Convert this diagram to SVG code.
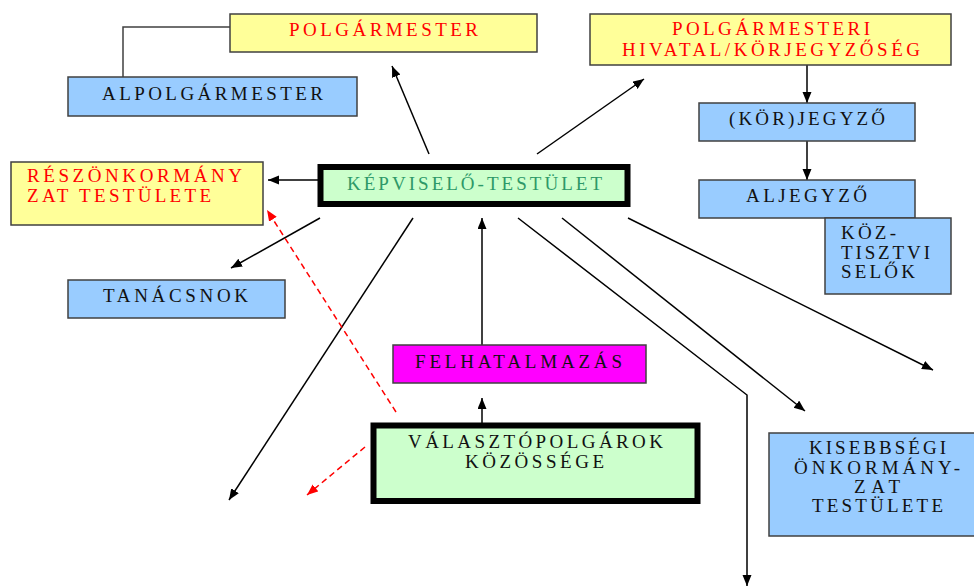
<svg xmlns="http://www.w3.org/2000/svg" width="974" height="587" viewBox="0 0 974 587">
<defs>
<marker id="ah" markerUnits="userSpaceOnUse" markerWidth="12" markerHeight="10" refX="11" refY="4.5" orient="auto"><path d="M0,0 L11,4.5 L0,9 z" fill="#000"/></marker>
<marker id="ahr" markerUnits="userSpaceOnUse" markerWidth="12" markerHeight="10" refX="11" refY="4.5" orient="auto"><path d="M0,0 L11,4.5 L0,9 z" fill="#f00"/></marker>
<style>
.box{stroke:#404040;stroke-width:1.5}
.thick{stroke:#000;stroke-width:6;fill:#ccffcc}
.yel{fill:#ffff99}
.blu{fill:#99ccff}
.mag{fill:#ff00ff}
text{font-family:"Liberation Serif","Times New Roman",serif;font-size:19px;fill:#111}
.red{fill:#ff0000}
.teal{fill:#2e9968}
.c{stroke:#000;stroke-width:1.5;fill:none}
.d{stroke:#ff0000;stroke-width:1.5;fill:none;stroke-dasharray:6,4}
</style>
</defs>
<rect width="974" height="587" fill="#fff"/>
<g id="connectors">
<polyline points="230,27 123,27 123,77" stroke="#404040" stroke-width="1.5" fill="none"/>
<line class="c" x1="429" y1="154" x2="392" y2="66" marker-end="url(#ah)"/>
<line class="c" x1="537" y1="154" x2="644" y2="79" marker-end="url(#ah)"/>
<line class="c" x1="318" y1="180" x2="268" y2="180" marker-end="url(#ah)"/>
<line class="c" x1="807" y1="65" x2="807" y2="103" marker-end="url(#ah)"/>
<line class="c" x1="807" y1="141" x2="807" y2="180" marker-end="url(#ah)"/>
<line class="c" x1="320" y1="218" x2="231" y2="268" marker-end="url(#ah)"/>
<line class="c" x1="413" y1="218" x2="229" y2="500" marker-end="url(#ah)"/>
<line class="c" x1="482" y1="345" x2="482" y2="218" marker-end="url(#ah)"/>
<line class="c" x1="482" y1="424" x2="482" y2="398" marker-end="url(#ah)"/>
<polyline class="c" points="518,218 747,395 747,586" stroke-width="1.3" marker-end="url(#ah)"/>
<line class="c" x1="562" y1="218" x2="805" y2="411" stroke-width="2" marker-end="url(#ah)"/>
<line class="c" x1="628" y1="218" x2="933" y2="370" marker-end="url(#ah)"/>
<line class="d" x1="396" y1="412" x2="267" y2="210" marker-end="url(#ahr)"/>
<line class="d" x1="365" y1="447" x2="307" y2="495" marker-end="url(#ahr)"/>
</g>
<g id="polgarmester">
<rect class="box yel" x="230" y="14" width="307" height="38"/>
<text class="red" x="289" y="36" textLength="189" lengthAdjust="spacing">POLGÁRMESTER</text>
</g>
<g id="alpolgarmester">
<rect class="box blu" x="68" y="77" width="289" height="39"/>
<text x="102" y="100" textLength="221" lengthAdjust="spacing">ALPOLGÁRMESTER</text>
</g>
<g id="hivatal">
<rect class="box yel" x="590" y="14" width="361" height="51"/>
<text class="red" x="672" y="35" textLength="198" lengthAdjust="spacing">POLGÁRMESTERI</text>
<text class="red" x="622" y="56" textLength="298" lengthAdjust="spacing">HIVATAL/KÖRJEGYZŐSÉG</text>
</g>
<g id="korjegyzo">
<rect class="box blu" x="699" y="103" width="216" height="38"/>
<text x="729" y="125" textLength="156" lengthAdjust="spacing">(KÖR)JEGYZŐ</text>
</g>
<g id="aljegyzo">
<rect class="box blu" x="699" y="180" width="216" height="38"/>
<text x="746" y="202" textLength="121" lengthAdjust="spacing">ALJEGYZŐ</text>
</g>
<g id="koztisztviselok">
<rect class="box blu" x="825" y="218" width="126" height="76"/>
<text x="841" y="239" textLength="55" lengthAdjust="spacing">KÖZ-</text>
<text x="841" y="259" textLength="89" lengthAdjust="spacing">TISZTVI</text>
<text x="841" y="278" textLength="74" lengthAdjust="spacing">SELŐK</text>
</g>
<g id="reszonkormanyzat">
<rect class="box yel" x="11" y="162" width="252" height="63"/>
<text class="red" x="27" y="182" textLength="215" lengthAdjust="spacing">RÉSZÖNKORMÁNY</text>
<text class="red" x="27" y="202" textLength="184" lengthAdjust="spacing">ZAT TESTÜLETE</text>
</g>
<g id="kepviselo-testulet">
<rect class="thick" x="320.5" y="167" width="307" height="37"/>
<text class="teal" x="347" y="190" textLength="255" lengthAdjust="spacing">KÉPVISELŐ-TESTÜLET</text>
</g>
<g id="tanacsnok">
<rect class="box blu" x="68" y="280" width="217" height="38"/>
<text x="103" y="302" textLength="145" lengthAdjust="spacing">TANÁCSNOK</text>
</g>
<g id="felhatalmazas">
<rect class="box mag" x="393" y="345" width="253" height="38"/>
<text x="415" y="368" textLength="207" lengthAdjust="spacing">FELHATALMAZÁS</text>
</g>
<g id="valasztopolgarok">
<rect class="thick" x="373.5" y="425.5" width="324" height="75.5"/>
<text x="408" y="448" textLength="255" lengthAdjust="spacing">VÁLASZTÓPOLGÁROK</text>
<text x="465" y="468" textLength="139" lengthAdjust="spacing">KÖZÖSSÉGE</text>
</g>
<g id="kisebbsegi">
<rect class="box blu" x="769" y="433" width="215" height="103"/>
<text x="809" y="454" textLength="137" lengthAdjust="spacing">KISEBBSÉGI</text>
<text x="794" y="474" textLength="166" lengthAdjust="spacing">ÖNKORMÁNY-</text>
<text x="854" y="493" textLength="46" lengthAdjust="spacing">ZAT</text>
<text x="812" y="512" textLength="131" lengthAdjust="spacing">TESTÜLETE</text>
</g>
</svg>
